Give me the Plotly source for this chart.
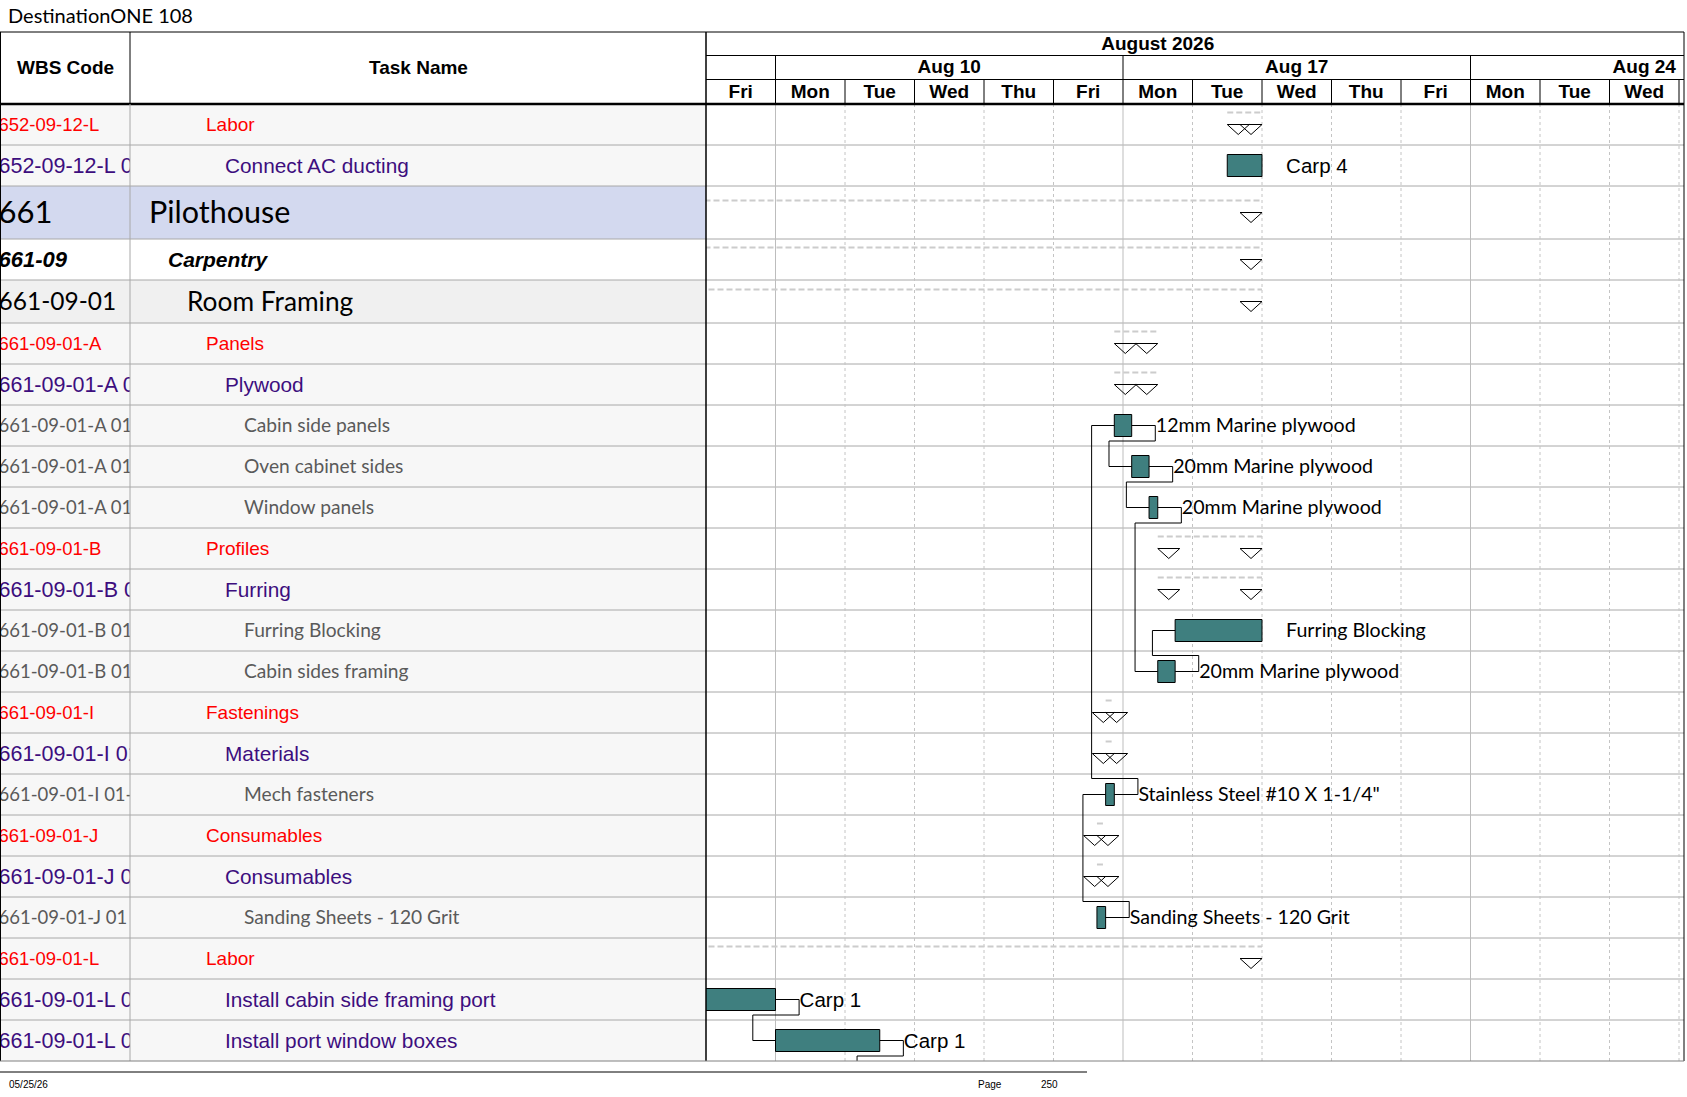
import plotly.graph_objects as go

# ---------------- data ----------------
title_text = "DestinationONE 108"
print_date = "05/25/26"
page_label = "Page"
page_number = "250"

wbs_codes = [
    "652-09-12-L", "652-09-12-L 01", "661", "661-09", "661-09-01",
    "661-09-01-A", "661-09-01-A 01", "661-09-01-A 01 01", "661-09-01-A 01 02", "661-09-01-A 01 03",
    "661-09-01-B", "661-09-01-B 01", "661-09-01-B 01 01", "661-09-01-B 01 02",
    "661-09-01-I", "661-09-01-I 01", "661-09-01-I 01-01",
    "661-09-01-J", "661-09-01-J 01", "661-09-01-J 01 01",
    "661-09-01-L", "661-09-01-L 01", "661-09-01-L 02",
]
task_names = [
    "Labor", "Connect AC ducting", "Pilothouse", "Carpentry", "Room Framing",
    "Panels", "Plywood", "Cabin side panels", "Oven cabinet sides", "Window panels",
    "Profiles", "Furring", "Furring Blocking", "Cabin sides framing",
    "Fastenings", "Materials", "Mech fasteners",
    "Consumables", "Consumables", "Sanding Sheets - 120 Grit",
    "Labor", "Install cabin side framing port", "Install port window boxes",
]
row_style = ["group", "task", "area", "discipline", "room",
             "group", "task", "item", "item", "item",
             "group", "task", "item", "item",
             "group", "task", "item",
             "group", "task", "item",
             "group", "task", "task"]
outline_level = [4, 5, 1, 2, 3, 4, 5, 6, 6, 6, 4, 5, 6, 6, 4, 5, 6, 4, 5, 6, 4, 5, 5]
is_summary = [True, False, True, True, True,
              True, True, False, False, False,
              True, True, False, False,
              True, True, False,
              True, True, False,
              True, False, False]
# working days counted from Fri Aug 7 2026 (weekends not shown)
start_day = [7.5, 7.5, -3.0, -3.0, -1.0,
             5.875, 5.875, 5.875, 6.125, 6.375,
             6.5, 6.5, 6.75, 6.5,
             5.75, 5.75, 5.75,
             5.625, 5.625, 5.625,
             -1.0, -1.0, 1.0]
finish_day = [8.0, 8.0, 8.0, 8.0, 8.0,
              6.5, 6.5, 6.125, 6.375, 6.5,
              8.0, 8.0, 8.0, 6.75,
              5.875, 5.875, 5.875,
              5.75, 5.75, 5.75,
              8.0, 1.0, 2.5]
bar_labels = ["", "Carp 4", "", "", "",
              "", "", "12mm Marine plywood", "20mm Marine plywood", "20mm Marine plywood",
              "", "", "Furring Blocking", "20mm Marine plywood",
              "", "", 'Stainless Steel #10 X 1-1/4"',
              "", "", "Sanding Sheets - 120 Grit",
              "", "Carp 1", "Carp 1"]
# finish-to-start links (None = successor on the next page)
link_from = [19, 16, 7, 8, 9, 13, 21, 22]
link_to = [16, 7, 8, 9, 13, 12, 22, None]

# timescale
day_labels = ["Fri", "Mon", "Tue", "Wed", "Thu", "Fri", "Mon", "Tue", "Wed", "Thu",
              "Fri", "Mon", "Tue", "Wed", "Thu"]
week_labels = ["Aug 3", "Aug 10", "Aug 17", "Aug 24", "Aug 31"]
week_first_day = [-4, 1, 6, 11, 16]
month_labels = ["August 2026"]
month_first_day = [-4]
month_end_day = [17]

header_wbs = "WBS Code"
header_task = "Task Name"

# ---------------- layout constants (px) ----------------
FIG_W, FIG_H = 1687, 1097
TOP, MONTH_Y, WEEK_Y, HEAD_Y, BOTTOM = 32, 55.5, 79.5, 104, 1061
COL_WBS, COL_TASK, RIGHT = 130, 706, 1684
DAY_PX = 69.5
X_MAX = (RIGHT - COL_TASK) / DAY_PX
ROW_HEIGHTS = {"area": 53, "room": 43}
DEFAULT_ROW_H = 41
INDENT_PX = 19
BAR_H = 22
TRI_W, TRI_H = 22, 10
LABEL_GAP = 23.6
DROP_GAP = 22.7
TEXT_DY = 0.1  # fraction of font size

SANS = "Liberation Sans, Arial, sans-serif"
HUMAN = "Lato, Calibri, sans-serif"
RED = "#FF0000"
PURPLE = "#3D0E7E"
GRAYTXT = "#5A5A5A"
TEAL = "#3F7F7F"
GRID = "#BDBDBD"

# family, name size, wbs size, colour
style_font = {
    "group": (SANS, 19, 18.5, RED),
    "task": (SANS, 20.8, 21.5, PURPLE),
    "area": (HUMAN, 30.5, 31, "#000000"),
    "discipline": (SANS, 21, 22, "#000000"),
    "room": (HUMAN, 26.3, 24.5, "#000000"),
    "item": (HUMAN, 19.2, 18.5, GRAYTXT),
}
style_bg = {"area": "#D3D9EF", "discipline": "#FFFFFF", "room": "#F0F0F0"}


def px_x(p):
    return p / FIG_W


def px_y(p):
    return 1 - p / FIG_H


# row geometry (y units = px below header)
row_h = [ROW_HEIGHTS.get(s, DEFAULT_ROW_H) for s in row_style]
tops = []
acc = 0
for h in row_h:
    tops.append(acc)
    acc += h
body_h = acc
centers = [t + h / 2 for t, h in zip(tops, row_h)]
n = len(task_names)

fig = go.Figure()

# ---------------- table text ----------------
def fmt(txt, style):
    return f"<b><i>{txt}</i></b>" if style == "discipline" else txt

fig.add_trace(go.Scatter(
    x=[-1.5] * n,
    y=[c + TEXT_DY * style_font[s][2] for c, s in zip(centers, row_style)],
    mode="text",
    text=[fmt(w, s) for w, s in zip(wbs_codes, row_style)],
    textposition="middle right",
    textfont=dict(family=[style_font[s][0] for s in row_style],
                  size=[style_font[s][2] for s in row_style],
                  color=[style_font[s][3] for s in row_style]),
    cliponaxis=True, xaxis="x3", yaxis="y3", hoverinfo="skip"))

fig.add_trace(go.Scatter(
    x=[COL_WBS + INDENT_PX * lv for lv in outline_level],
    y=[c + TEXT_DY * style_font[s][1] for c, s in zip(centers, row_style)],
    mode="text",
    text=[fmt(t, s) for t, s in zip(task_names, row_style)],
    textposition="middle right",
    textfont=dict(family=[style_font[s][0] for s in row_style],
                  size=[style_font[s][1] for s in row_style],
                  color=[style_font[s][3] for s in row_style]),
    cliponaxis=True, xaxis="x4", yaxis="y4", hoverinfo="skip"))

# ---------------- timescale header ----------------
hfont = dict(family=SANS, size=19, color="#000000", weight="bold")


def header_row(centres, labels, y):
    keep = [(c, t) for c, t in zip(centres, labels) if 0 <= c <= X_MAX]
    fig.add_trace(go.Scatter(
        x=[c for c, _ in keep], y=[y] * len(keep), mode="text",
        text=[t for _, t in keep], textposition="middle center", textfont=hfont,
        cliponaxis=True, xaxis="x2", yaxis="y2", hoverinfo="skip"))


nd = len(day_labels)
header_row([i + 0.5 for i in range(nd)], day_labels, (WEEK_Y + HEAD_Y) / 2 - TOP + 1)
header_row([w + 2.5 for w in week_first_day], week_labels, (MONTH_Y + WEEK_Y) / 2 - TOP + 1)
header_row([(a + b) / 2 for a, b in zip(month_first_day, month_end_day)], month_labels,
           (TOP + MONTH_Y) / 2 - TOP + 1)

# ---------------- gantt ----------------
tw = TRI_W / DAY_PX
dash_x, dash_y, tri_x, tri_y = [], [], [], []
for i in range(n):
    if not is_summary[i]:
        continue
    s, f, c = start_day[i], finish_day[i], centers[i]
    dash_x += [s, f, None]
    dash_y += [c - 12, c - 12, None]
    for x0 in (s, f - tw):
        tri_x += [x0, x0 + tw, x0 + tw / 2, x0, None]
        tri_y += [c, c, c + TRI_H, c, None]

fig.add_trace(go.Scatter(x=dash_x, y=dash_y, mode="lines",
                         line=dict(color="#CCCCCC", width=2, dash="6px,3px"),
                         hoverinfo="skip"))

# links
lk_x, lk_y = [], []
for p, s in zip(link_from, link_to):
    pe, pc = finish_day[p], centers[p]
    if s is None:
        ss, sc = pe, body_h + 40
    else:
        ss, sc = start_day[s], centers[s]
    x_turn = pe + LABEL_GAP / DAY_PX
    y_turn = tops[p] + row_h[p] - 5 if sc > pc else tops[p] + 4.5
    x_drop = ss - DROP_GAP / DAY_PX
    lk_x += [pe, x_turn, x_turn, x_drop, x_drop, ss, None]
    lk_y += [pc, pc, y_turn, y_turn, sc, sc, None]
fig.add_trace(go.Scatter(x=lk_x, y=lk_y, mode="lines",
                         line=dict(color="#000000", width=1), hoverinfo="skip"))

task_idx = [i for i in range(n) if not is_summary[i]]
fig.add_trace(go.Bar(
    orientation="h",
    y=[centers[i] for i in task_idx],
    x=[finish_day[i] - start_day[i] for i in task_idx],
    base=[start_day[i] for i in task_idx],
    width=BAR_H,
    marker=dict(color=TEAL, line=dict(color="#000000", width=1)),
    hoverinfo="skip"))

fig.add_trace(go.Scatter(x=tri_x, y=tri_y, mode="lines",
                         line=dict(color="#000000", width=1), hoverinfo="skip"))

lab_idx = [i for i in task_idx if bar_labels[i]]
lab_size = [20.5 if row_style[i] == "task" else 19.6 for i in lab_idx]
fig.add_trace(go.Scatter(
    x=[finish_day[i] + (LABEL_GAP + 0.5) / DAY_PX for i in lab_idx],
    y=[centers[i] + TEXT_DY * sz for i, sz in zip(lab_idx, lab_size)],
    mode="text", text=[bar_labels[i] for i in lab_idx],
    textposition="middle right",
    textfont=dict(family=[SANS if row_style[i] == "task" else HUMAN for i in lab_idx],
                  size=lab_size, color="#000000"),
    cliponaxis=True, hoverinfo="skip"))

# ---------------- shapes ----------------
shapes = []
for i in range(n):
    shapes.append(dict(type="rect", xref="paper", yref="y", x0=0, x1=px_x(COL_TASK),
                       y0=tops[i], y1=tops[i] + row_h[i],
                       fillcolor=style_bg.get(row_style[i], "#F7F7F7"),
                       line=dict(width=0), layer="below"))
for i in range(1, n):
    shapes.append(dict(type="line", xref="paper", yref="y", x0=0, x1=px_x(RIGHT),
                       y0=tops[i], y1=tops[i], line=dict(color="#A8A8A8", width=1),
                       layer="below"))
for d in range(1, nd):
    mon = day_labels[d] == "Mon"
    shapes.append(dict(type="line", xref="x", yref="paper", x0=d, x1=d,
                       y0=px_y(BOTTOM), y1=px_y(HEAD_Y),
                       line=dict(color=GRID if mon else "#C4C4C4", width=1,
                                 dash="solid" if mon else "3px,3px"),
                       layer="below"))
    shapes.append(dict(type="line", xref="x2", yref="y2", x0=d, x1=d,
                       y0=WEEK_Y - TOP, y1=HEAD_Y - TOP,
                       line=dict(color="#000000", width=1)))
for w in week_first_day:
    shapes.append(dict(type="line", xref="x2", yref="y2", x0=w, x1=w,
                       y0=MONTH_Y - TOP, y1=WEEK_Y - TOP,
                       line=dict(color="#000000", width=1)))


def pline(x0, y0, x1, y1, color="#000000", width=1):
    shapes.append(dict(type="line", xref="paper", yref="paper",
                       x0=px_x(x0), x1=px_x(x1), y0=px_y(y0), y1=px_y(y1),
                       line=dict(color=color, width=width)))


pline(0, TOP, RIGHT, TOP)
pline(COL_TASK, MONTH_Y, RIGHT, MONTH_Y)
pline(COL_TASK, WEEK_Y, RIGHT, WEEK_Y)
pline(0, HEAD_Y, RIGHT, HEAD_Y, width=2.5)
pline(0.5, TOP, 0.5, BOTTOM)
pline(COL_WBS, TOP, COL_WBS, HEAD_Y)
pline(COL_WBS, HEAD_Y, COL_WBS, BOTTOM, color="#A8A8A8")
pline(COL_TASK, TOP, COL_TASK, BOTTOM, width=1.5)
pline(RIGHT, TOP, RIGHT, BOTTOM)
pline(0, BOTTOM, RIGHT, BOTTOM, color="#808080")
pline(0, 1072, 1087, 1072, width=1)

# ---------------- annotations ----------------
annotations = [
    dict(text=title_text, xref="paper", yref="paper", x=px_x(6), y=px_y(15),
         xanchor="left", yanchor="middle", showarrow=False,
         font=dict(family=HUMAN, size=20, color="#000000")),
    dict(text=f"<b>{header_wbs}</b>", xref="paper", yref="paper",
         x=px_x(COL_WBS / 2), y=px_y((TOP + HEAD_Y) / 2 - 1),
         xanchor="center", yanchor="middle", showarrow=False,
         font=dict(family=SANS, size=19, color="#000000")),
    dict(text=f"<b>{header_task}</b>", xref="paper", yref="paper",
         x=px_x((COL_WBS + COL_TASK) / 2), y=px_y((TOP + HEAD_Y) / 2 - 1),
         xanchor="center", yanchor="middle", showarrow=False,
         font=dict(family=SANS, size=19, color="#000000")),
    dict(text=print_date, xref="paper", yref="paper", x=px_x(7), y=px_y(1084),
         xanchor="left", yanchor="middle", showarrow=False,
         font=dict(family=SANS, size=10, color="#000000")),
    dict(text=page_label, xref="paper", yref="paper", x=px_x(976), y=px_y(1084),
         xanchor="left", yanchor="middle", showarrow=False,
         font=dict(family=SANS, size=10, color="#000000")),
    dict(text=page_number, xref="paper", yref="paper", x=px_x(1039), y=px_y(1084),
         xanchor="left", yanchor="middle", showarrow=False,
         font=dict(family=SANS, size=10, color="#000000")),
]

hidden = dict(visible=False, fixedrange=True)
ydom = [px_y(BOTTOM), px_y(HEAD_Y)]
fig.update_layout(
    width=FIG_W, height=FIG_H,
    margin=dict(l=0, r=0, t=0, b=0),
    paper_bgcolor="#FFFFFF", plot_bgcolor="rgba(0,0,0,0)",
    showlegend=False, barmode="overlay",
    xaxis=dict(domain=[px_x(COL_TASK), px_x(RIGHT)], range=[0, X_MAX],
               anchor="y", **hidden),
    yaxis=dict(domain=ydom, range=[body_h, 0], anchor="x", **hidden),
    xaxis2=dict(domain=[px_x(COL_TASK), px_x(RIGHT)], matches="x", anchor="y2", **hidden),
    yaxis2=dict(domain=[px_y(HEAD_Y), px_y(TOP)], range=[HEAD_Y - TOP, 0], anchor="x2", **hidden),
    xaxis3=dict(domain=[0, px_x(COL_WBS)], range=[0, COL_WBS], anchor="y3", **hidden),
    yaxis3=dict(domain=ydom, matches="y", anchor="x3", **hidden),
    xaxis4=dict(domain=[px_x(COL_WBS), px_x(COL_TASK)], range=[COL_WBS, COL_TASK], anchor="y4", **hidden),
    yaxis4=dict(domain=ydom, matches="y", anchor="x4", **hidden),
    shapes=shapes, annotations=annotations,
)

fig.write_html(
    "out.html",
    config={"displayModeBar": False, "staticPlot": True},
    post_script="document.body.style.margin='0';document.body.style.overflow='hidden';",
)
